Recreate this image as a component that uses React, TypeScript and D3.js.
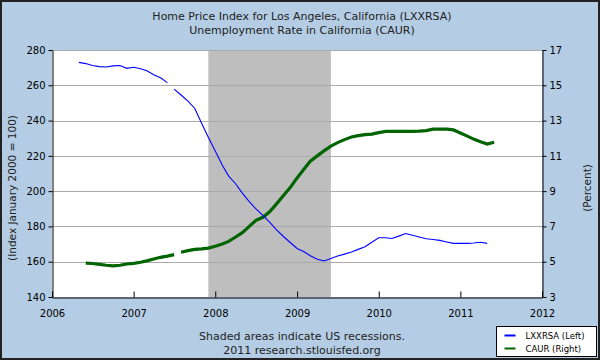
import React, { useEffect, useRef } from 'react';
import * as d3 from 'd3';

// Home price index, Los Angeles (LXXRSA), monthly from May 2006
const hpiStart = '2006-05-01';
const hpiValues = [
  273.0, 272.3, 271.2, 270.6, 270.4, 271.0, 271.2, 269.6,
  270.2, 269.4, 268.2, 266.0, 264.3, 261.5, 257.8, 254.5, 251.0, 247.0, 238.5, 230.5,
  222.8, 214.8, 208.5, 204.2, 198.9, 194.1, 189.9, 186.3, 182.3, 178.0, 174.3, 170.9,
  167.5, 165.6, 163.4, 161.4, 160.4, 161.8, 163.2, 164.3, 165.5, 167.0, 168.5, 171.0,
  173.6, 173.6, 173.2, 174.5, 176.0, 175.0, 174.0, 173.0, 172.6, 172.1, 171.2, 170.4,
  170.4, 170.4, 170.6, 171.0, 170.4,
];
const hpiBreakAfter = '2007-06-01';

// Unemployment rate, California (CAUR), monthly from June 2006
const caurStart = '2006-06-01';
const caurValues = [
  4.92, 4.9, 4.85, 4.8, 4.77, 4.8, 4.87,
  4.91, 4.97, 5.05, 5.15, 5.25, 5.32, 5.4, 5.54, 5.63, 5.7, 5.73, 5.77,
  5.88, 6.0, 6.15, 6.4, 6.65, 7.0, 7.35, 7.52, 7.84, 8.28, 8.75, 9.2,
  9.75, 10.25, 10.7, 11.0, 11.28, 11.55, 11.75, 11.92, 12.07, 12.15, 12.2, 12.23,
  12.32, 12.39, 12.39, 12.39, 12.39, 12.39, 12.4, 12.43, 12.51, 12.51, 12.51, 12.47,
  12.3, 12.12, 11.95, 11.8, 11.67, 11.77,
];
const caurBreakAfter = '2007-07-01';

const recession = ['2007-12-01', '2009-06-01'];
const xDomain = ['2006-01-01', '2012-01-01'];
const leftTicks = [140, 160, 180, 200, 220, 240, 260, 280];
const rightTicks = [3, 5, 7, 9, 11, 13, 15, 17];
const titleLines = [
  'Home Price Index for Los Angeles, California (LXXRSA)',
  'Unemployment Rate in California (CAUR)',
];
const footerLines = ['Shaded areas indicate US recessions.', '2011 research.stlouisfed.org'];
const legendItems = [
  { label: 'LXXRSA (Left)', color: '#0000ff' },
  { label: 'CAUR (Right)', color: '#006400' },
];

const parse = d3.utcParse('%Y-%m-%d');

function toSeries(start: string, values: number[], breakAfter: string) {
  const s = parse(start)!;
  const b = parse(breakAfter)!;
  const pts = values.map((v, i) => ({ date: d3.utcMonth.offset(s, i), value: v }));
  const k = pts.findIndex((p) => +p.date === +b);
  return [pts.slice(0, k + 1), pts.slice(k + 1)];
}

const App = () => {
  const svgRef = useRef<SVGSVGElement>(null);

  useEffect(() => {
    if (!svgRef.current) return;
    const svg = d3.select(svgRef.current);
    svg.selectAll('*').remove();

    const width = 600;
    const height = 360;
    const plot = { left: 52, right: 542, top: 50, bottom: 297 };
    const font = '"DejaVu Sans", Verdana, sans-serif';

    svg.attr('width', width).attr('height', height).style('font-family', font);

    // background + frame
    svg.append('rect').attr('x', 1).attr('y', 1).attr('width', width - 2).attr('height', height - 2)
      .attr('fill', '#b4cde4').attr('stroke', '#222').attr('stroke-width', 2);

    const x = d3.scaleUtc().domain(xDomain.map((d) => parse(d)!)).range([plot.left, plot.right]);
    const yL = d3.scaleLinear().domain([140, 280]).range([plot.bottom, plot.top]);
    const yR = d3.scaleLinear().domain([3, 17]).range([plot.bottom, plot.top]);

    svg.append('rect').attr('x', plot.left).attr('y', plot.top)
      .attr('width', plot.right - plot.left).attr('height', plot.bottom - plot.top).attr('fill', '#fff');

    // recession shading
    const r0 = x(parse(recession[0])!);
    const r1 = x(parse(recession[1])!);
    svg.append('rect').attr('x', r0).attr('y', plot.top).attr('width', r1 - r0)
      .attr('height', plot.bottom - plot.top).attr('fill', '#bebebe');

    // gridlines
    svg.append('g').selectAll('line').data(leftTicks.slice(1, -1)).join('line')
      .attr('x1', plot.left).attr('x2', plot.right)
      .attr('y1', (d) => Math.round(yL(d)) + 0.5).attr('y2', (d) => Math.round(yL(d)) + 0.5)
      .attr('stroke', '#aaa');
    svg.append('line').attr('x1', plot.left).attr('x2', plot.right)
      .attr('y1', plot.top + 0.5).attr('y2', plot.top + 0.5).attr('stroke', '#aaa');

    // axes
    const left = svg.append('g').attr('transform', `translate(${plot.left + 0.5},0)`)
      .call(d3.axisLeft(yL).tickValues(leftTicks).tickSize(4).tickPadding(3).tickSizeOuter(0));
    const right = svg.append('g').attr('transform', `translate(${plot.right + 0.5},0)`)
      .call(d3.axisRight(yR).tickValues(rightTicks).tickSize(4).tickPadding(3).tickSizeOuter(0));
    const bottom = svg.append('g').attr('transform', `translate(0,${plot.bottom + 0.5})`)
      .call(d3.axisBottom(x).ticks(d3.utcYear.every(1)).tickFormat(d3.utcFormat('%Y') as any)
        .tickSize(-6).tickPadding(12).tickSizeOuter(0));
    [left, right, bottom].forEach((g) => {
      g.selectAll('path').attr('stroke', '#000');
      g.selectAll('line').attr('stroke', '#000');
      g.selectAll('text').attr('font-size', 10).attr('font-family', font).attr('fill', '#000');
    });
    bottom.selectAll('text').attr('dy', '0.71em');

    // lines
    const lineL = d3.line<{ date: Date; value: number }>().x((d) => x(d.date)).y((d) => yL(d.value));
    const lineR = d3.line<{ date: Date; value: number }>().x((d) => x(d.date)).y((d) => yR(d.value));

    svg.append('g').selectAll('path').data(toSeries(caurStart, caurValues, caurBreakAfter)).join('path')
      .attr('d', (d) => lineR(d)).attr('fill', 'none').attr('stroke', '#006400').attr('stroke-width', 3.2);
    svg.append('g').selectAll('path').data(toSeries(hpiStart, hpiValues, hpiBreakAfter)).join('path')
      .attr('d', (d) => lineL(d)).attr('fill', 'none').attr('stroke', '#0000ff').attr('stroke-width', 1.1);

    // titles
    svg.append('g').selectAll('text').data(titleLines).join('text')
      .attr('x', 302).attr('y', (d, i) => 20 + i * 14).attr('text-anchor', 'middle')
      .attr('font-size', 11).attr('fill', '#222').text((d) => d);

    svg.append('text').attr('transform', 'rotate(-90)').attr('x', -188).attr('y', 16)
      .attr('text-anchor', 'middle').attr('font-size', 10.5).attr('fill', '#222')
      .text('(Index January 2000 = 100)');
    svg.append('text').attr('transform', 'rotate(-90)').attr('x', -188).attr('y', 591)
      .attr('text-anchor', 'middle').attr('font-size', 10.5).attr('fill', '#222')
      .text('(Percent)');

    svg.append('g').selectAll('text').data(footerLines).join('text')
      .attr('x', 302).attr('y', (d, i) => 340 + i * 14).attr('text-anchor', 'middle')
      .attr('font-size', 11).attr('fill', '#222').text((d) => d);

    // legend
    const lg = svg.append('g').attr('transform', 'translate(496.5,326.5)');
    lg.append('rect').attr('width', 100).attr('height', 30).attr('fill', '#fff').attr('stroke', '#000');
    const item = lg.selectAll('g').data(legendItems).join('g')
      .attr('transform', (d, i) => `translate(0,${9 + i * 13})`);
    item.append('line').attr('x1', 8).attr('x2', 19).attr('stroke', (d) => d.color).attr('stroke-width', 2);
    item.append('text').attr('x', 29).attr('y', 3.5).attr('font-size', 8.5)
      .attr('font-family', font).attr('fill', '#000').text((d) => d.label);
  }, []);

  return (
    <div style={{ position: 'absolute', left: 0, top: 0 }}>
      <svg ref={svgRef} style={{ display: 'block' }}></svg>
    </div>
  );
};

export default App;
